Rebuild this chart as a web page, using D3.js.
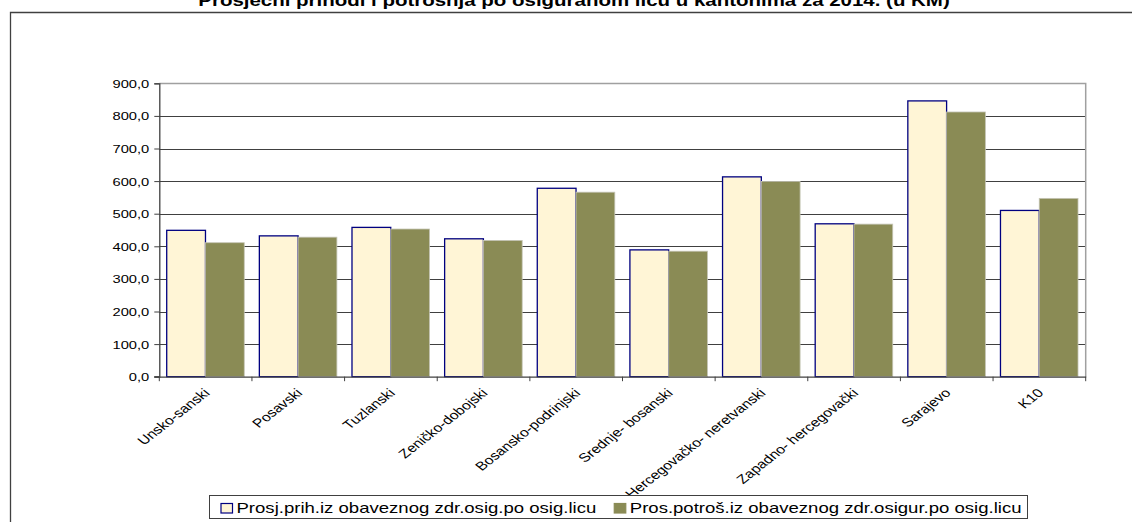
<!DOCTYPE html>
<html>
<head>
<meta charset="utf-8">
<script src="https://cdn.jsdelivr.net/npm/d3@7"></script>
<style>
  html, body { margin: 0; padding: 0; background: #ffffff; }
  svg { display: block; }
  text { font-family: Arial, "Liberation Sans", sans-serif; fill: #000; }
</style>
</head>
<body>
<svg id="chart" width="1132" height="529"></svg>
<script>
// ---- data ----
const title = "Prosječni prihodi i potrošnja po osiguranom licu u kantonima za 2014. (u KM)";
const categories = ["Unsko-sanski", "Posavski", "Tuzlanski", "Zeničko-dobojski", "Bosansko-podrinjski",
  "Srednje- bosanski", "Hercegovačko- neretvanski", "Zapadno- hercegovački", "Sarajevo", "K10"];
const seriesNames = ["Prosj.prih.iz obaveznog zdr.osig.po osig.licu", "Pros.potroš.iz obaveznog zdr.osigur.po osig.licu"];
const prihodi = [449, 432, 458, 423, 578, 389, 613, 469, 846, 510];
const potrosnja = [411, 428, 453, 418, 566, 385, 599, 468, 812, 547];
const yTicks = [0, 100, 200, 300, 400, 500, 600, 700, 800, 900];

// ---- layout ----
const SX = 1.28; // horizontal stretch of the original rendering
const plot = { left: 159.3, right: 1085.7, top: 83.3, bottom: 376.7 };
const svg = d3.select("#chart");

const fmt = d3.formatLocale({ decimal: ",", thousands: ".", grouping: [3], currency: ["", ""] }).format(".1f");

const x = d3.scaleBand().domain(categories).range([plot.left, plot.right]).padding(0);
const step = x.step();
const x1 = d3.scaleBand().domain([0, 1]).range([step * 0.08, step * 0.917]).padding(0);
const y = d3.scaleLinear().domain([0, 900]).range([plot.bottom, plot.top]);

// outer chart frame
svg.append("path").attr("d", "M10.5,522 V12.5 H1132").attr("fill", "none").attr("stroke", "#404040").attr("stroke-width", 1.3);

// title (partly above the top edge, as in the reference)
svg.append("text")
  .attr("transform", `translate(574,5.5) scale(${SX},1)`)
  .attr("text-anchor", "middle")
  .attr("font-size", 16).attr("font-weight", "bold")
  .text(title);

// gridlines
svg.append("g").selectAll("line").data(yTicks.filter(d => d > 0 && d < 900)).join("line")
  .attr("x1", plot.left).attr("x2", plot.right)
  .attr("y1", d => Math.round(y(d)) + 0.5).attr("y2", d => Math.round(y(d)) + 0.5)
  .attr("stroke", "#404040").attr("stroke-width", 1);

// plot frame top & right
svg.append("path")
  .attr("d", `M${plot.left},${Math.round(plot.top) + 0.5} H${plot.right} V${plot.bottom}`)
  .attr("fill", "none").attr("stroke", "#a0a0a0").attr("stroke-width", 1.5);

// bars
const groups = svg.append("g").selectAll("g").data(categories).join("g")
  .attr("transform", d => `translate(${x(d)},0)`);
groups.append("rect")
  .attr("x", x1(0)).attr("width", x1.bandwidth())
  .attr("y", (d, i) => y(prihodi[i])).attr("height", (d, i) => y(0) - y(prihodi[i]))
  .attr("fill", "#FFF5D6").attr("stroke", "#000080").attr("stroke-width", 1.3);
groups.append("rect")
  .attr("x", x1(1)).attr("width", x1.bandwidth())
  .attr("y", (d, i) => y(potrosnja[i])).attr("height", (d, i) => y(0) - y(potrosnja[i]))
  .attr("fill", "#8A8B55").attr("stroke", "#c4c4b4").attr("stroke-width", 0.8);

// y axis
const yAxis = svg.append("g").attr("transform", `translate(${plot.left},0)`)
  .call(d3.axisLeft(y).tickValues(yTicks).tickFormat(d => fmt(d)).tickSize(5).tickPadding(5));
yAxis.select(".domain").attr("stroke", "#404040").attr("stroke-width", 1.3);
yAxis.selectAll(".tick line").attr("stroke", "#404040");
yAxis.selectAll(".tick text")
  .attr("font-size", 11.5).attr("font-family", "Arial, 'Liberation Sans', sans-serif")
  .attr("x", null).attr("dy", null)
  .attr("transform", `translate(-10,4) scale(${SX},1)`);

// x axis
const xAxis = svg.append("g").attr("transform", `translate(0,${plot.bottom})`)
  .call(d3.axisBottom(x).tickSize(0).tickFormat(""));
xAxis.select(".domain").attr("stroke", "#404040").attr("stroke-width", 1.3);
xAxis.selectAll(".tick").remove();
const bounds = categories.map(c => x(c)).concat([plot.right]);
svg.append("g").selectAll("line").data(bounds).join("line")
  .attr("x1", d => d).attr("x2", d => d)
  .attr("y1", plot.bottom).attr("y2", plot.bottom + 4.5)
  .attr("stroke", "#404040").attr("stroke-width", 1);
svg.append("line").attr("x1", plot.left - 5).attr("x2", plot.left)
  .attr("y1", plot.bottom).attr("y2", plot.bottom).attr("stroke", "#404040");

svg.append("g").selectAll("text").data(categories).join("text")
  .attr("transform", d => `translate(${x(d) + step / 2 + 5},${plot.bottom + 17}) scale(${SX},1) rotate(-45)`)
  .attr("text-anchor", "end")
  .attr("font-size", 12.3)
  .text(d => d);

// legend
const lg = svg.append("g");
lg.append("rect").attr("x", 209.5).attr("y", 495.5).attr("width", 818).attr("height", 23)
  .attr("fill", "#fff").attr("stroke", "#404040").attr("stroke-width", 1);
const legFill = ["#FFF5D6", "#8A8B55"], legStroke = ["#000080", "#8A8B55"];
let lx = 221;
seriesNames.forEach((name, i) => {
  lg.append("rect").attr("x", lx).attr("y", 503.5).attr("width", 11.5).attr("height", 9.5)
    .attr("fill", legFill[i]).attr("stroke", legStroke[i]).attr("stroke-width", 1.2);
  const t = lg.append("text")
    .attr("transform", `translate(${lx + 15.5},513) scale(${SX},1)`)
    .attr("font-size", 14.5).text(name);
  const w = t.node().getComputedTextLength() * SX;
  lx = lx + 15.5 + w + 18;
});
</script>
</body>
</html>
